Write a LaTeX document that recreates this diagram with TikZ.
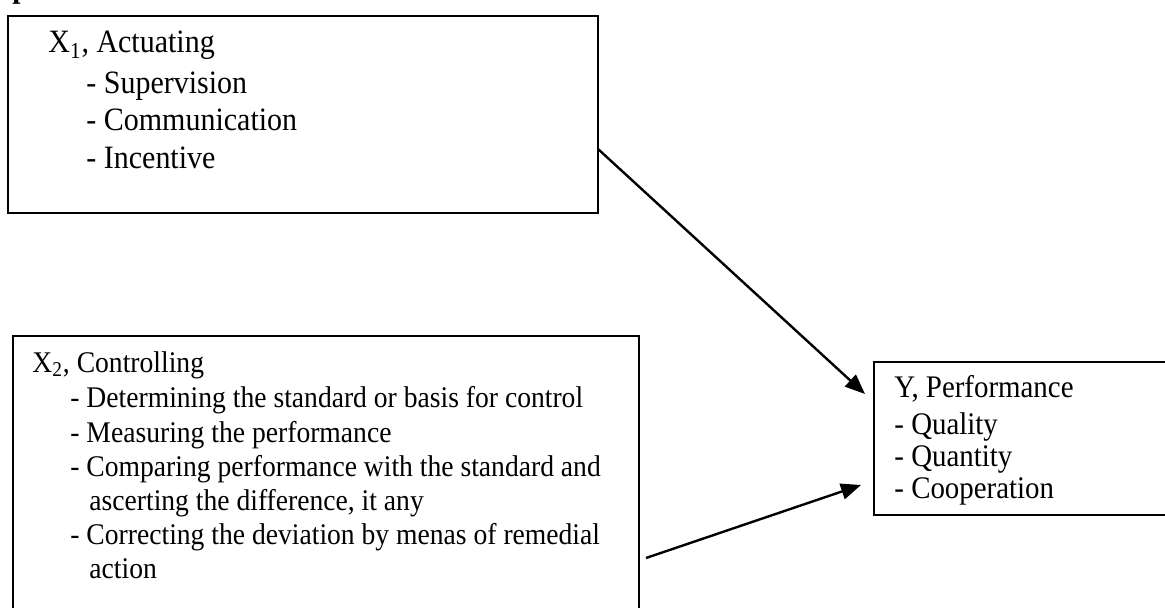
\documentclass[tikz,border=0pt]{standalone}
\usepackage{fontspec}
\setmainfont{Liberation Serif}[FakeStretch=0.92]
\usetikzlibrary{arrows.meta,fit}
\begin{document}
\begin{tikzpicture}[x=0.5pt,y=-0.5pt,
  box/.style={draw,line width=0.9pt,inner sep=0pt,rectangle},
  txt/.style={anchor=base west,inner sep=0pt},
  ta/.style={txt,font=\fontsize{16.3}{18}\selectfont},
  tb/.style={txt,font=\fontsize{15}{17}\selectfont},
  tc/.style={txt,font=\fontsize{15.7}{17}\selectfont},
  link/.style={line width=1.2pt,-{Triangle[length=10pt,width=8pt]}}]
\useasboundingbox (0,0) rectangle (1165,608);
% cropped heading glyph at the very top
\node[anchor=base west,inner sep=0pt,font=\fontsize{16}{18}\selectfont\bfseries] (head) at (12,-2) {p};
% corner coordinates
\coordinate (b1a) at (8,16);   \coordinate (b1b) at (598,213);
\coordinate (b2a) at (13,336); \coordinate (b2b) at (639,625);
\coordinate (bya) at (874,362); \coordinate (byb) at (1185,515);
\node[box,fit=(b1a)(b1b)] (b1) {};
\node[box,fit=(b2a)(b2b)] (b2) {};
\node[box,fit=(bya)(byb)] (by) {};
% box 1 text
\node[ta] (x1)  at (48,53)  {X\textsubscript{1}, Actuating};
\node[ta] (x1a) at (86,94)  {- Supervision};
\node[ta] (x1b) at (86,131) {- Communication};
\node[ta] (x1c) at (86,169) {- Incentive};
% box 2 text
\node[tb] (x2)  at (32,372) {X\textsubscript{2}, Controlling};
\node[tb] (x2a) at (70,408) {- Determining the standard or basis for control};
\node[tb] (x2b) at (70,443) {- Measuring the performance};
\node[tb] (x2c) at (70,476) {- Comparing performance with the standard and};
\node[tb] (x2d) at (89,510) {ascerting the difference, it any};
\node[tb] (x2e) at (70,544) {- Correcting the deviation by menas of remedial};
\node[tb] (x2f) at (89,578) {action};
% box Y text
\node[tc] (y0) at (894,398) {Y, Performance};
\node[tc] (y1) at (894,434) {- Quality};
\node[tc] (y2) at (894,466) {- Quantity};
\node[tc] (y3) at (894,498) {- Cooperation};
% connectors
\coordinate (a1s) at (598,149);
\coordinate (a1e) at (865,394);
\coordinate (a2s) at (646,558);
\coordinate (a2e) at (861,485);
\draw[link] (a1s) -- (a1e);
\draw[link] (a2s) -- (a2e);
\end{tikzpicture}
\end{document}
